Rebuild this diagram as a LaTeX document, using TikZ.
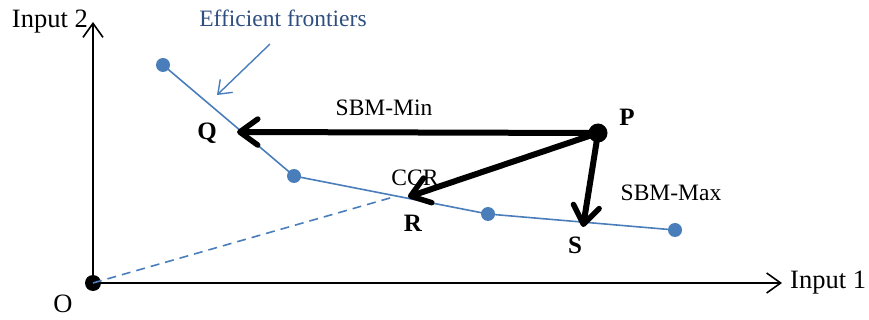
\documentclass[tikz,border=0pt]{standalone}
\usepackage{fontspec}
\setmainfont{Liberation Serif}
\usetikzlibrary{arrows.meta}
\definecolor{fblue}{HTML}{4A7EBB}
\definecolor{tblue}{HTML}{2F4F7F}
\begin{document}
\begin{tikzpicture}[x=1pt,y=-1pt,
  axis/.style={line width=1.6pt,-{Straight Barb[length=14pt,width=20pt,line width=1.6pt]}},
  front/.style={fblue,line width=1.6pt},
  fdot/.style={circle,fill=fblue,inner sep=0pt,minimum size=14pt},
  bigarrow/.style={line width=6pt,-{Straight Barb[length=18pt,width=26pt,line width=5.5pt,round]}},
  lbl/.style={font=\fontsize{23.5}{26}\selectfont},
  axlbl/.style={font=\fontsize{26.5}{29}\selectfont,inner sep=0pt},
  blbl/.style={font=\fontsize{25}{28}\selectfont\bfseries}]
\useasboundingbox (0,0) rectangle (869,320);
\node[circle,fill=black,inner sep=0pt,minimum size=16pt] (O) at (93,283) {};
\coordinate (Ytop) at (93,22);
\coordinate (Xend) at (782,283);
\draw[axis] (O.center) -- (Ytop);
\draw[axis] (O.center) -- (Xend);
\node[axlbl,anchor=east] (in2) at (88,22) {Input 2};
\node[axlbl,anchor=west] (in1) at (790,283) {Input 1};
\node[axlbl] (olbl) at (63,304) {O};
% frontier
\node[fdot] (F1) at (163,65) {};
\node[fdot] (F2) at (294,176) {};
\node[fdot] (F3) at (488,214) {};
\node[fdot] (F4) at (675,230) {};
\draw[front] (F1.center) -- (F2.center) -- (F3.center) -- (F4.center);
\coordinate (Rpt) at (397,196);
\draw[fblue,line width=1.6pt,dash pattern=on 9pt off 6pt] (O.center) -- (Rpt);
% label
\node[lbl,text=tblue] (eff) at (283,18) {Efficient frontiers};
\coordinate (ea) at (270,44);
\coordinate (eb) at (217,95);
\draw[fblue,line width=1.4pt,-{Straight Barb[length=12pt,width=18pt,line width=1.4pt]}] (ea) -- (eb);
% P and arrows
\node[circle,fill=black,inner sep=0pt,minimum size=19pt] (P) at (598,133) {};
\coordinate (Q) at (237,132);
\coordinate (R) at (408,197);
\coordinate (S) at (583,227);
\draw[bigarrow] (P.center) -- (Q);
\draw[bigarrow] (P.center) -- (R);
\draw[bigarrow] (P.center) -- (S);
\node[blbl] (Plbl) at (627,117) {P};
\node[blbl] (Qlbl) at (207,133) {Q};
\node[blbl] (Rlbl) at (413,223) {R};
\node[blbl] (Slbl) at (575,245) {S};
\node[lbl] (min) at (384,108) {SBM-Min};
\node[lbl] (ccr) at (415,178) {CCR};
\node[lbl] (max) at (671,193) {SBM-Max};
\end{tikzpicture}
\end{document}
